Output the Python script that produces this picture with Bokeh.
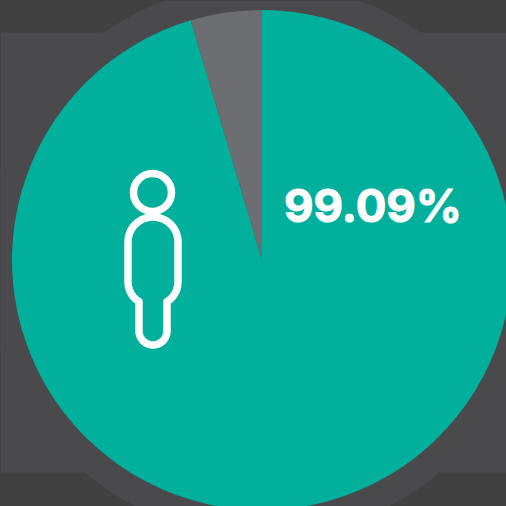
import numpy as np
from bokeh.plotting import figure
from bokeh.embed import file_html
from bokeh.resources import INLINE
from bokeh.core.properties import value

# Data
categories = ["Share", "Rest"]
shares = [95.4, 4.6]
colors = ["#00B09D", "#6D6E71"]
label = "99.09%"

W = H = 506
DARK, LIGHT = "#414142", "#4A4A4C"
cx, cy, R, HALO = 261.5, H - 259.5, 250, 277

p = figure(width=W, height=H, x_range=(0, W), y_range=(0, H), output_backend="svg",
           toolbar_location=None, min_border=0, outline_line_color=None,
           background_fill_color=DARK, border_fill_color=DARK)
p.axis.visible = False
p.grid.visible = False

# Backdrop
p.quad(left=0, right=W, bottom=H - 472, top=H - 32, fill_color=LIGHT, line_color=None)
p.circle(x=cx, y=cy, radius=HALO, fill_color=LIGHT, line_color=None)

# Pie
frac = np.cumsum([0] + shares) / sum(shares)
starts = np.pi / 2 - 2 * np.pi * frac[:-1]
ends = np.pi / 2 - 2 * np.pi * frac[1:]
p.wedge(x=[cx] * 2, y=[cy] * 2, radius=R, start_angle=starts, end_angle=ends,
        direction="clock", fill_color=colors, line_color=None)

# Person icon
def arc(x0, y0, r, a0, a1, n=40):
    t = np.radians(np.linspace(a0, a1, n))
    return x0 + r * np.cos(t), y0 + r * np.sin(t)

def bez(a, b, c, d, n=20):
    t = np.linspace(0, 1, n)[:, None]
    a, b, c, d = map(np.array, (a, b, c, d))
    pts = (1 - t) ** 3 * a + 3 * (1 - t) ** 2 * t * b + 3 * (1 - t) * t ** 2 * c + t ** 3 * d
    return pts[:, 0], pts[:, 1]

p.circle(x=152, y=H - 192, radius=19, fill_color=None, line_color="white", line_width=7.5)

segs = [
    arc(152.5, 241.5, 25, 180, 360),
    bez((177.5, 281), (177.5, 291), (172, 298), (166.5, 301)),
    arc(152.5, 330.5, 14, 0, 180),
    bez((138.5, 301), (133, 298), (127.5, 291), (127.5, 281)),
]
bx = np.concatenate([s[0] for s in segs] + [[127.5]])
by = np.concatenate([s[1] for s in segs] + [[241.5]])
p.line(bx, H - by, line_color="white", line_width=7.5, line_join="round")

# Label
p.text(x=[283.5], y=[H - 205], text=[label], text_color="white", text_font=value("Inter"),
       text_font_style="bold", text_font_size="45.5px", text_baseline="alphabetic", text_align="left",
       text_outline_color="white")

html = file_html(p, INLINE)
html = html.replace("<head>", "<head><style>html,body{margin:0;overflow:hidden;background:#414142}</style>", 1)
open("out.html", "w").write(html)
